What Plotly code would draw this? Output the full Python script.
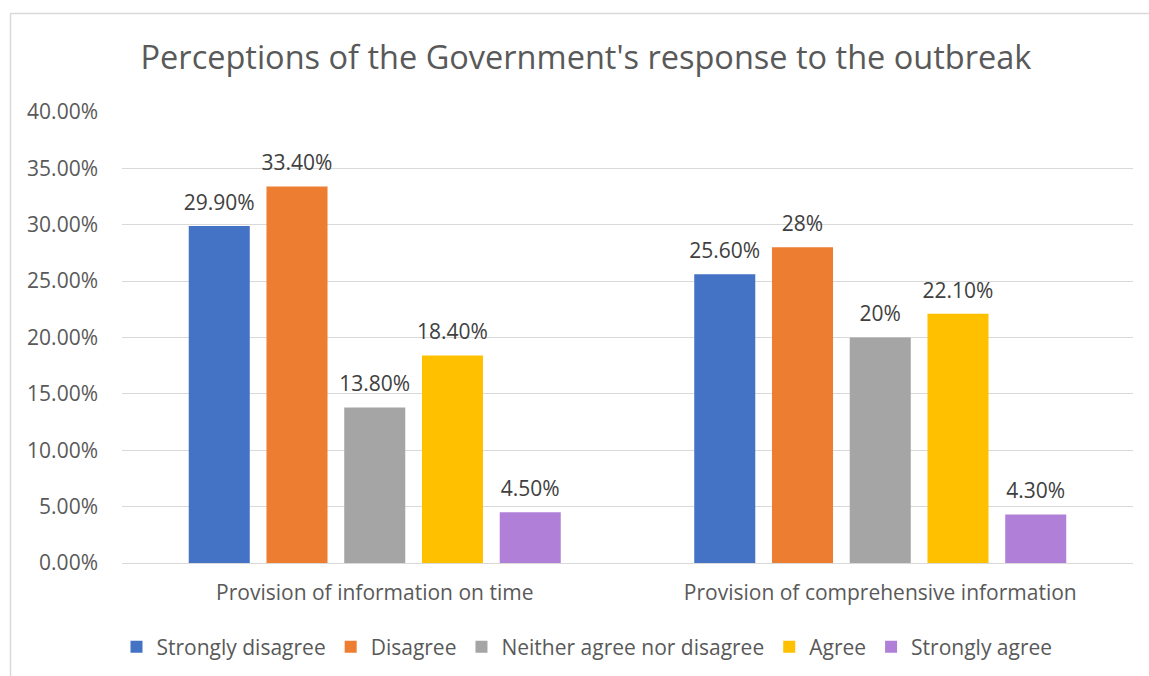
import plotly.graph_objects as go

categories = ["Provision of information on time", "Provision of comprehensive information"]
series_names = ["Strongly disagree", "Disagree", "Neither agree nor disagree", "Agree", "Strongly agree"]
strongly_disagree = [0.299, 0.256]
disagree = [0.334, 0.28]
neither = [0.138, 0.20]
agree = [0.184, 0.221]
strongly_agree = [0.045, 0.043]
labels_sd = ["29.90%", "25.60%"]
labels_d = ["33.40%", "28%"]
labels_n = ["13.80%", "20%"]
labels_a = ["18.40%", "22.10%"]
labels_sa = ["4.50%", "4.30%"]
colors = ["#4472C4", "#ED7D31", "#A5A5A5", "#FFC000", "#B07FD8"]

values = [strongly_disagree, disagree, neither, agree, strongly_agree]
texts = [labels_sd, labels_d, labels_n, labels_a, labels_sa]

FONT = "Open Sans"
fig = go.Figure()
for name, vals, col in zip(series_names, values, colors):
    fig.add_trace(go.Bar(
        name=name, x=categories, y=vals,
        marker=dict(color=col, line=dict(width=0)),
        hoverinfo="skip",
    ))
# data labels, grouped the same way as the bars
for name, vals, txt in zip(series_names, values, texts):
    fig.add_trace(go.Scatter(
        x=categories, y=vals, text=txt, mode="markers+text",
        orientation="v", textposition="top center", cliponaxis=False,
        marker=dict(size=16, opacity=0),
        textfont=dict(family=FONT, size=21, color="#404040"),
        showlegend=False, hoverinfo="skip",
    ))

W, H = 1149, 676
L, R, T, B = 122, 16, 112, 113
pw = W - L - R
ph = H - T - B

def px2x(p):
    return (p - L) / pw

def py2y(p):
    return (H - B - p) / ph

fig.update_layout(
    width=W, height=H,
    margin=dict(l=L, r=R, t=T, b=B, autoexpand=False),
    paper_bgcolor="white", plot_bgcolor="white",
    barmode="group", bargap=0.231, bargroupgap=0.215,
    scattermode="group", scattergap=0.231,
    title=dict(text="Perceptions of the Government's response to the outbreak",
               x=586 / W, xanchor="center", y=1 - 58 / H, yanchor="middle",
               font=dict(family=FONT, size=32.5, color="#595959")),
    font=dict(family=FONT, color="#595959"),
    yaxis=dict(range=[0, 0.40], dtick=0.05, tickformat=".2%",
               showgrid=True, gridcolor="#D9D9D9", gridwidth=1,
               zeroline=False, showline=False, automargin=False,
               tickfont=dict(family=FONT, size=21, color="#595959"),
               ticklabelstandoff=23),
    xaxis=dict(showline=True, linecolor="#D9D9D9", linewidth=1, automargin=False,
               tickfont=dict(family=FONT, size=21, color="#595959"),
               ticklabelstandoff=11),
    legend=dict(orientation="h", x=px2x(587), xanchor="center",
                y=py2y(647), yanchor="middle",
                font=dict(family=FONT, size=21, color="#595959"),
                itemwidth=30, tracegroupgap=0),
    showlegend=True,
    shapes=[dict(type="rect", xref="paper", yref="paper",
                 x0=px2x(10.5), x1=px2x(1170), y0=py2y(700), y1=py2y(13.5),
                 line=dict(color="#D9D9D9", width=1.5), layer="below")],
)

fig.write_html("out.html", post_script="document.body.style.margin='0';",
               config={"displayModeBar": False})
